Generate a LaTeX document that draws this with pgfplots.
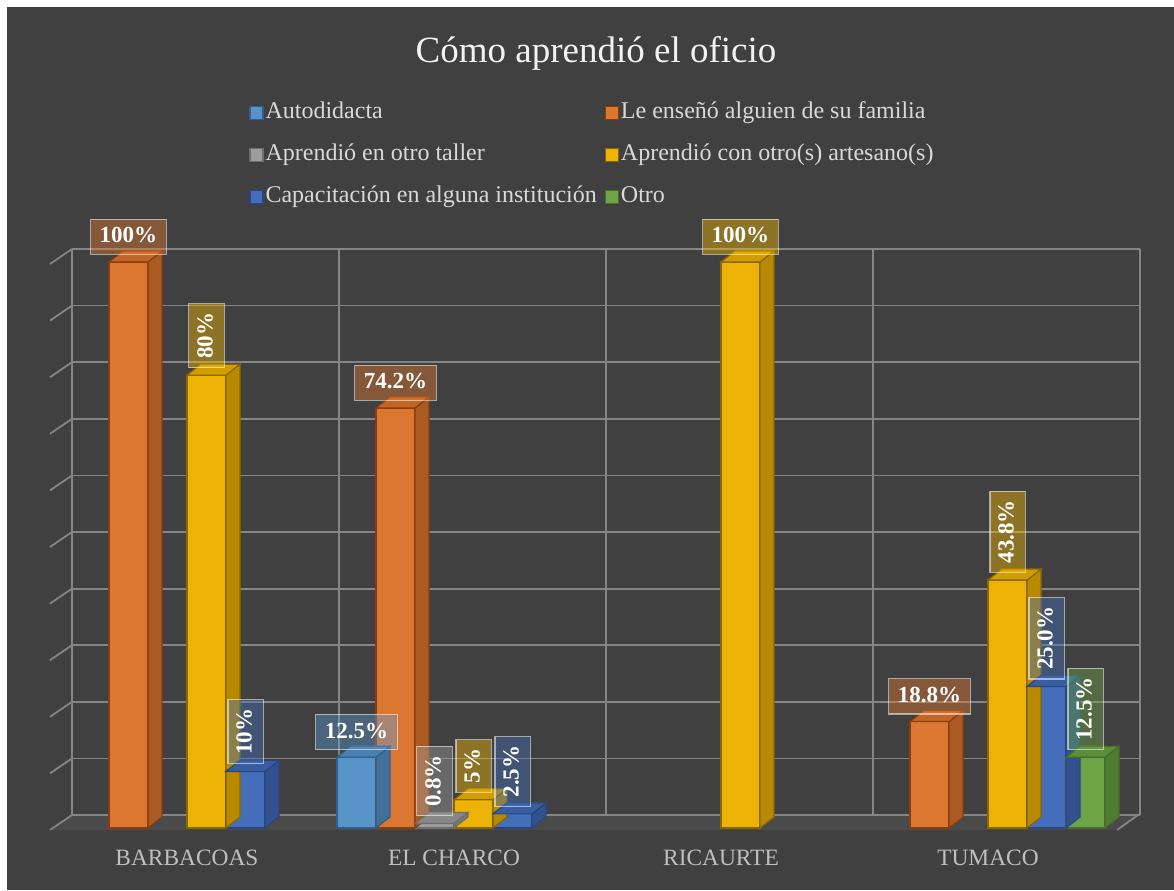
\documentclass[border=0pt]{standalone}
\usepackage{pgfplots}
\pgfplotsset{compat=1.18}
\usepackage{pgfplotstable}
\usepackage{fontspec}
\setmainfont{Liberation Serif}

\definecolor{bgdark}{HTML}{404040}
\definecolor{floorc}{HTML}{4A4A4A}
\definecolor{gridc}{HTML}{858585}
\definecolor{titlec}{HTML}{F2F2F2}
\definecolor{legc}{HTML}{D9D9D9}
\definecolor{tickc}{HTML}{BFBFBF}

\definecolor{cAuto}{HTML}{5B9BD5}
\definecolor{cFam}{HTML}{ED7D31}
\definecolor{cTall}{HTML}{A5A5A5}
\definecolor{cArt}{HTML}{FFC000}
\definecolor{cCap}{HTML}{4472C4}
\definecolor{cOtro}{HTML}{70AD47}

\definecolor{cAutoE}{HTML}{2E5F8F}
\definecolor{cFamE}{HTML}{8A3D0C}
\definecolor{cTallE}{HTML}{6E6E6E}
\definecolor{cArtE}{HTML}{8A6800}
\definecolor{cCapE}{HTML}{2A4680}
\definecolor{cOtroE}{HTML}{466D2A}

\colorlet{cAutoF}{cAuto!92!bgdark}
\colorlet{cFamF}{cFam!90!bgdark}
\colorlet{cTallF}{cTall!92!bgdark}
\colorlet{cArtF}{cArt!90!bgdark}
\colorlet{cCapF}{cCap!92!bgdark}
\colorlet{cOtroF}{cOtro!92!bgdark}

\colorlet{cAutoS}{cAuto!72!black}
\colorlet{cFamS}{cFam!72!black}
\colorlet{cTallS}{cTall!72!black}
\colorlet{cArtS}{cArt!72!black}
\colorlet{cCapS}{cCap!72!black}
\colorlet{cOtroS}{cOtro!72!black}

\colorlet{cAutoT}{cAuto!82!black}
\colorlet{cFamT}{cFam!82!black}
\colorlet{cTallT}{cTall!82!black}
\colorlet{cArtT}{cArt!82!black}
\colorlet{cCapT}{cCap!82!black}
\colorlet{cOtroT}{cOtro!82!black}

% side and top faces of a 3D bar, drawn from the top-centre of the bar
% #1 side colour, #2 top colour, #3 edge colour, #4 bar shift
\newcommand\cubefaces[4]{%
  \pgftransformshift{\pgfpoint{#4}{0pt}}%
  \pgfmathsetlengthmacro\cubeh{\ry*2.83pt}%
  \pgfsetlinewidth{0.6pt}%
  \pgfsetstrokecolor{#3}%
  \pgfpathmoveto{\pgfpoint{9.75pt}{0pt}}%
  \pgfpathlineto{\pgfpoint{16.75pt}{5.5pt}}%
  \pgfpathlineto{\pgfpoint{16.75pt}{5.5pt-\cubeh}}%
  \pgfpathlineto{\pgfpoint{9.75pt}{-\cubeh}}%
  \pgfpathclose
  \pgfsetfillcolor{#1}%
  \pgfusepath{fill,stroke}%
  \pgfpathmoveto{\pgfpoint{-9.75pt}{0pt}}%
  \pgfpathlineto{\pgfpoint{-2.75pt}{5.5pt}}%
  \pgfpathlineto{\pgfpoint{16.75pt}{5.5pt}}%
  \pgfpathlineto{\pgfpoint{9.75pt}{0pt}}%
  \pgfpathclose
  \pgfsetfillcolor{#2}%
  \pgfusepath{fill,stroke}%
}
\pgfdeclareplotmark{cubeAuto}{\cubefaces{cAutoS}{cAutoT}{cAutoE}{-48.75pt}}
\pgfdeclareplotmark{cubeFam}{\cubefaces{cFamS}{cFamT}{cFamE}{-29.25pt}}
\pgfdeclareplotmark{cubeTall}{\cubefaces{cTallS}{cTallT}{cTallE}{-9.75pt}}
\pgfdeclareplotmark{cubeArt}{\cubefaces{cArtS}{cArtT}{cArtE}{9.75pt}}
\pgfdeclareplotmark{cubeCap}{\cubefaces{cCapS}{cCapT}{cCapE}{29.25pt}}
\pgfdeclareplotmark{cubeOtro}{\cubefaces{cOtroS}{cOtroT}{cOtroE}{48.75pt}}

% x: 0 BARBACOAS, 1 EL CHARCO, 2 RICAURTE, 3 TUMACO (zero values omitted)
\pgfplotstableread{
x y lab
1 12.5 {12.5\%}
}\tAuto
\pgfplotstableread{
x y lab
0 100 {100\%}
1 74.2 {74.2\%}
3 18.8 {18.8\%}
}\tFam
\pgfplotstableread{
x y lab
1 0.8 {0.8\%}
}\tTall
\pgfplotstableread{
x y lab
0 80 {80\%}
1 5 {5\%}
2 100 {100\%}
3 43.8 {43.8\%}
}\tArt
\pgfplotstableread{
x y lab
0 10 {10\%}
1 2.5 {2.5\%}
3 25.0 {25.0\%}
}\tCap
\pgfplotstableread{
x y lab
3 12.5 {12.5\%}
}\tOtro

\pgfplotsset{
  sq legend/.style={legend image code/.code={%
      \draw[##1,line width=0.6pt] (0pt,-3.25pt) rectangle (6.5pt,3.25pt);}},
  frontbar/.style n args={3}{ybar, bar width=19.5pt, bar shift=#1,
      fill=#2, draw=#3, line width=0.6pt, sq legend},
  cube/.style={only marks, mark=#1, forget plot,
      visualization depends on={rawy \as \ry}},
  lblplot/.style n args={4}{ybar, bar width=19.5pt, bar shift=#1,
      draw=none, fill=none, forget plot,
      point meta=explicit symbolic,
      nodes near coords,
      every node near coord/.append style={
        font=\bfseries\fontsize{11.5}{12}\selectfont, text=white,
        fill=#2, fill opacity=0.4, text opacity=1,
        draw=white, draw opacity=0.55, line width=0.6pt,
        inner xsep=4.5pt, inner ysep=3.5pt,
        text height=8.3pt, text depth=2.3pt,
        xshift=#1, yshift=3.5pt, rotate=#3, anchor=#4}},
}

\begin{document}
\begin{tikzpicture}
\begin{scope}[x=0.5pt, y=-0.5pt, shift={(-53.5,-828)}]
  \fill[white] (0,0) rectangle (1174,890);
  \fill[bgdark] (7,7) rectangle (1174,890);
  \fill[floorc] (72,815) -- (1138,815) -- (1117,830) -- (50,830) -- cycle;
  \draw[gridc, line width=0.9pt] (1138,815) -- (1117,830);
  \node[anchor=base, text=titlec, font=\fontsize{18.5}{22}\selectfont]
     at (596,63) {Cómo aprendió el oficio};
\end{scope}

\begin{axis}[
  at={(0,0)}, anchor=south west,
  scale only axis, width=534pt, height=283pt,
  xmin=-0.5, xmax=3.5, ymin=0, ymax=100,
  clip=false,
  axis line style={draw=none},
  tick style={draw=none},
  xtick={0,1,2,3},
  xticklabels={BARBACOAS, EL CHARCO, RICAURTE, TUMACO},
  minor xtick={-0.5,0.5,1.5,2.5,3.5},
  xminorgrids=true, xmajorgrids=false, ymajorgrids=true,
  ytick={0,10,...,100}, yticklabels={},
  major grid style={draw=gridc, line width=0.9pt, xshift=9.25pt, yshift=6.5pt},
  minor grid style={draw=gridc, line width=0.9pt, xshift=9.25pt, yshift=6.5pt},
  xticklabel style={font=\fontsize{11.7}{13}\selectfont, text=tickc,
      anchor=base, yshift=-18.5pt},
  legend columns=2,
  legend cell align=left,
  legend style={at={(0.1774,1.2933)}, anchor=north west,
      draw=none, fill=none, text=legc,
      font=\fontsize{12}{14}\selectfont,
      row sep=8.5pt,
      nodes={inner sep=1pt, text height=8pt, text depth=2.5pt},
      /tikz/every even column/.append style={column sep=3pt}},
]
\pgfplotsinvokeforeach{0,10,...,100}{%
  \draw[gridc, line width=0.9pt]
    ([xshift=9.25pt,yshift=6.5pt]axis cs:-0.5,#1) --
    ([xshift=-1.75pt,yshift=-1pt]axis cs:-0.5,#1);
}

\addplot[frontbar={-48.75pt}{cAutoF}{cAutoE}] table[x=x,y=y] {\tAuto};
\addlegendentry{Autodidacta}
\addplot[cube=cubeAuto] table[x=x,y=y] {\tAuto};

\addplot[frontbar={-29.25pt}{cFamF}{cFamE}] table[x=x,y=y] {\tFam};
\addlegendentry{Le enseñó alguien de su familia}
\addplot[cube=cubeFam] table[x=x,y=y] {\tFam};

\addplot[frontbar={-9.75pt}{cTallF}{cTallE}] table[x=x,y=y] {\tTall};
\addlegendentry{Aprendió en otro taller}
\addplot[cube=cubeTall] table[x=x,y=y] {\tTall};

\addplot[frontbar={9.75pt}{cArtF}{cArtE}] table[x=x,y=y] {\tArt};
\addlegendentry{Aprendió con otro(s) artesano(s)}
\addplot[cube=cubeArt] table[x=x,y=y] {\tArt};

\addplot[frontbar={29.25pt}{cCapF}{cCapE}] table[x=x,y=y] {\tCap};
\addlegendentry{Capacitación en alguna institución}
\addplot[cube=cubeCap] table[x=x,y=y] {\tCap};

\addplot[frontbar={48.75pt}{cOtroF}{cOtroE}] table[x=x,y=y] {\tOtro};
\addlegendentry{Otro}
\addplot[cube=cubeOtro] table[x=x,y=y] {\tOtro};

% data labels: horizontal or rotated boxes
\addplot[lblplot={-48.75pt}{cAuto}{0}{south}] table[x=x,y=y,meta=lab] {\tAuto};
\addplot[lblplot={-29.25pt}{cFam}{0}{south}] table[x=x,y=y,meta=lab] {\tFam};
\addplot[lblplot={-9.75pt}{cTall}{90}{west}] table[x=x,y=y,meta=lab] {\tTall};
\addplot[lblplot={9.75pt}{cArt}{90}{west}, x filter/.expression={x==2 ? nan : x}] table[x=x,y=y,meta=lab] {\tArt};
\addplot[lblplot={9.75pt}{cArt}{0}{south}, x filter/.expression={x==2 ? x : nan}] table[x=x,y=y,meta=lab] {\tArt};
\addplot[lblplot={29.25pt}{cCap}{90}{west}] table[x=x,y=y,meta=lab] {\tCap};
\addplot[lblplot={48.75pt}{cOtro}{90}{west}] table[x=x,y=y,meta=lab] {\tOtro};
\end{axis}

\begin{scope}[x=0.5pt, y=-0.5pt, shift={(-53.5,-828)}]
  \pgfresetboundingbox
  \path[use as bounding box] (0,0) rectangle (1174,890);
\end{scope}
\end{tikzpicture}
\end{document}
